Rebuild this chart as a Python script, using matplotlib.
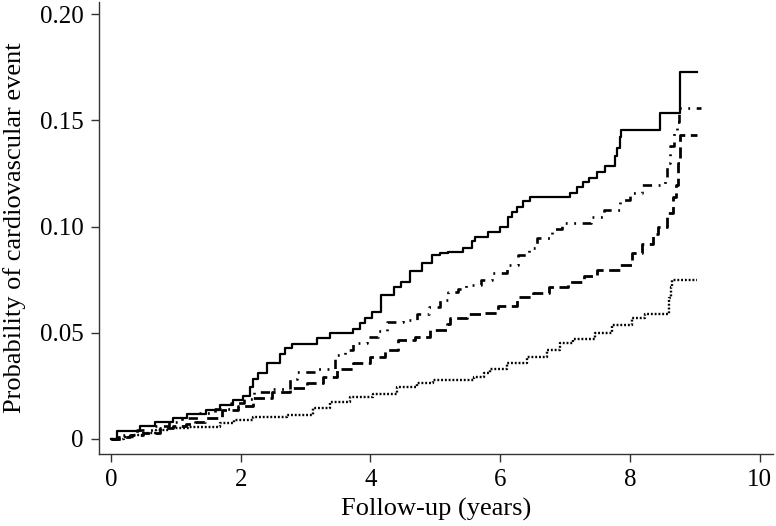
import matplotlib
matplotlib.use("Agg")
import matplotlib.pyplot as plt

# Series 1 (solid)
t_solid = [0, 0.09, 0.45, 0.68, 0.96, 1.17, 1.46, 1.68, 1.88, 2.03, 2.14, 2.19, 2.26, 2.40, 2.60, 2.68,
           2.79, 3.17, 3.37, 3.73, 3.84, 3.91, 4.02, 4.16, 4.36, 4.47, 4.61, 4.79, 4.95, 5.07, 5.19,
           5.42, 5.56, 5.61, 5.81, 5.99, 6.12, 6.18, 6.26, 6.35, 6.46, 7.07, 7.18, 7.27, 7.37, 7.50,
           7.61, 7.77, 7.80, 7.84, 7.87, 8.47, 8.77, 9.04]
p_solid = [0, 0.0038, 0.0061, 0.0080, 0.0099, 0.0118, 0.0136, 0.0160, 0.0184, 0.0200, 0.0245, 0.0280,
           0.0310, 0.0360, 0.0400, 0.0430, 0.0447, 0.0475, 0.0500, 0.0520, 0.0546, 0.0570, 0.0600,
           0.0680, 0.0715, 0.0740, 0.0790, 0.0830, 0.0866, 0.0875, 0.0880, 0.0900, 0.0930, 0.0950,
           0.0974, 0.0998, 0.1045, 0.1070, 0.1090, 0.1120, 0.1140, 0.1160, 0.1186, 0.1210, 0.1230,
           0.1256, 0.1285, 0.1330, 0.1370, 0.1420, 0.1454, 0.1534, 0.1727, 0.1727]

# Series 2 (dash-dot)
t_dashdot = [0, 0.15, 0.40, 0.65, 0.90, 1.10, 1.35, 1.60, 1.85, 2.05, 2.20, 2.45, 2.76, 2.86, 3.17,
             3.45, 3.60, 3.73, 3.95, 4.12, 4.25, 4.50, 4.72, 4.90, 5.07, 5.20, 5.35, 5.48, 5.70, 5.87,
             6.10, 6.27, 6.45, 6.57, 6.80, 6.95, 7.40, 7.60, 7.84, 8.00, 8.18, 8.54, 8.57, 8.62,
             8.68, 8.73, 8.75, 9.10]
p_dashdot = [0, 0.0020, 0.0040, 0.0060, 0.0080, 0.0100, 0.0120, 0.0140, 0.0170, 0.0190, 0.0220,
             0.0235, 0.0280, 0.0315, 0.0330, 0.0395, 0.0420, 0.0450, 0.0480, 0.0510, 0.0550, 0.0560,
             0.0590, 0.0620, 0.0654, 0.0690, 0.0705, 0.0725, 0.0750, 0.0780, 0.0820, 0.0866, 0.0900,
             0.0946, 0.0990, 0.1016, 0.1045, 0.1080, 0.1125, 0.1160, 0.1195, 0.1220, 0.1300, 0.1380,
             0.1445, 0.1490, 0.1560, 0.1560]

# Series 3 (dashed)
t_dashed = [0, 0.10, 0.30, 0.50, 0.75, 0.95, 1.15, 1.30, 1.45, 1.71, 1.96, 2.19, 2.48, 2.76, 3.02,
            3.27, 3.48, 3.73, 3.99, 4.22, 4.42, 4.68, 4.92, 5.18, 5.22, 5.49, 5.73, 5.96, 6.26,
            6.50, 6.76, 7.04, 7.30, 7.50, 7.84, 8.04, 8.18, 8.35, 8.43, 8.57, 8.67, 8.71, 8.74,
            8.77, 9.04]
p_dashed = [0, 0.0010, 0.0020, 0.0030, 0.0050, 0.0060, 0.0070, 0.0080, 0.0100, 0.0137, 0.0155,
            0.0193, 0.0220, 0.0240, 0.0264, 0.0290, 0.0330, 0.0358, 0.0386, 0.0420, 0.0466, 0.0480,
            0.0513, 0.0540, 0.0570, 0.0590, 0.0593, 0.0626, 0.0668, 0.0687, 0.0715, 0.0739, 0.0765,
            0.0795, 0.0820, 0.0875, 0.0920, 0.0965, 0.1000, 0.1064, 0.1140, 0.1195, 0.1300, 0.1430,
            0.1430]

# Series 4 (dotted)
t_dotted = [0, 0.20, 0.35, 0.50, 0.70, 0.90, 1.20, 1.68, 1.90, 2.19, 2.71, 3.11, 3.37, 3.68, 4.04,
            4.41, 4.71, 4.96, 5.60, 5.75, 5.84, 6.10, 6.41, 6.72, 6.92, 7.12, 7.46, 7.72, 8.03,
            8.23, 8.61, 8.63, 8.65, 9.04]
p_dotted = [0, 0.0010, 0.0020, 0.0030, 0.0040, 0.0050, 0.0056, 0.0075, 0.0090, 0.0104, 0.0113,
            0.0146, 0.0174, 0.0198, 0.0212, 0.0245, 0.0264, 0.0278, 0.0290, 0.0310, 0.0330, 0.0357,
            0.0386, 0.0419, 0.0450, 0.0470, 0.0500, 0.0536, 0.0570, 0.0590, 0.0664, 0.0715, 0.0748,
            0.0748]

x_ticks = [0, 2, 4, 6, 8, 10]
y_ticks = [0, 0.05, 0.10, 0.15, 0.20]
y_tick_labels = ["0", "0.05", "0.10", "0.15", "0.20"]

plt.rcParams['font.family'] = ['Liberation Serif', 'DejaVu Serif']

fig = plt.figure(figsize=(7.76, 5.26), dpi=100)
ax = fig.add_axes([0.1276, 0.1369, 0.868, 0.859])

ax.step(t_solid, p_solid, where='post', color='black', lw=1.6, linestyle='-')
ax.step(t_dashdot, p_dashdot, where='post', color='black', lw=1.9,
        linestyle=(0, (3.5, 2.5, 0.7, 2.5, 0.7, 2.5)))
ax.step(t_dashed, p_dashed, where='post', color='black', lw=2.0, linestyle=(0, (4, 2)))
ax.step(t_dotted, p_dotted, where='post', color='black', lw=1.7, linestyle=(0, (0.8, 0.8)))

ax.set_xlim(-0.185, 10.2)
ax.set_ylim(-0.00706, 0.2056)
ax.set_xticks(x_ticks)
ax.set_xticklabels([str(v) for v in x_ticks])
ax.set_yticks(y_ticks)
ax.set_yticklabels(y_tick_labels)

for s in ['top', 'right']:
    ax.spines[s].set_visible(False)
for s in ['left', 'bottom']:
    ax.spines[s].set_linewidth(1.0)
    ax.spines[s].set_color('#333333')

ax.tick_params(axis='both', direction='out', length=6, width=1.0, color='#333333',
               labelsize=18, pad=5)
ax.set_xlabel("Follow-up (years)", fontsize=19, labelpad=5)
ax.set_ylabel("Probability of cardiovascular event", fontsize=19, labelpad=10)

fig.savefig("out.png", dpi=100)
